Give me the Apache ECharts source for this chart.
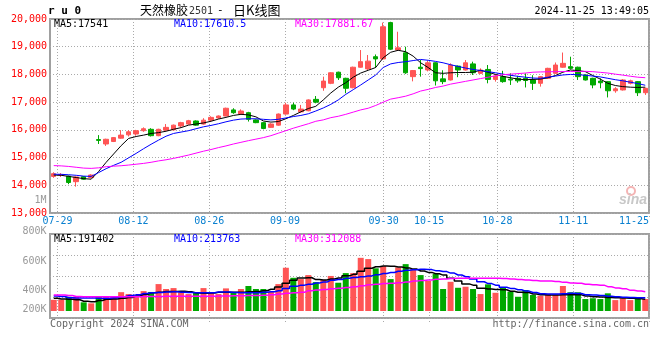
<!DOCTYPE html>
<html><head><meta charset="utf-8">
<script src="https://cdn.jsdelivr.net/npm/echarts@6/dist/echarts.min.js"></script>
<style>html,body{margin:0;padding:0;background:#fff}#c{width:660px;height:360px}</style>
</head><body><div id="c"></div>
<script>
// ---------- data ----------
const dates = ['07-26','07-29','07-30','07-31','08-01','08-02','08-05','08-06','08-07','08-08',
 '08-09','08-12','08-13','08-14','08-15','08-16','08-19','08-20','08-21','08-22',
 '08-23','08-26','08-27','08-28','08-29','08-30','09-02','09-03','09-04','09-05',
 '09-06','09-09','09-10','09-11','09-12','09-13','09-18','09-19','09-20','09-23',
 '09-24','09-25','09-26','09-27','09-30','10-08','10-09','10-10','10-11','10-14',
 '10-15','10-16','10-17','10-18','10-21','10-22','10-23','10-24','10-25','10-28',
 '10-29','10-30','10-31','11-01','11-04','11-05','11-06','11-07','11-08','11-11',
 '11-12','11-13','11-14','11-15','11-18','11-19','11-20','11-21','11-22','11-25'];
const xTickLabels = ['07-29','08-12','08-26','09-09','09-30','10-15','10-28','11-11','11-25'];

const opens = [14320,14360,14330,14130,14310,14280,15650,15490,15580,15700,
 15820,15850,15970,16020,15790,15990,16000,16140,16210,16320,
 16210,16350,16430,16500,16720,16570,16620,16360,16260,16090,
 16170,16570,16900,16650,16690,17100,17520,17680,18080,17860,
 17520,18260,18200,18640,18560,19870,18880,18780,17920,18260,
 18160,18420,17840,17800,18300,18160,18380,18040,18180,17820,
 17920,17830,17860,17860,17800,17680,17860,18040,18260,18280,
 18260,17980,17860,17760,17740,17410,17440,17680,17740,17340];
const closes = [14420,14390,14100,14300,14220,14370,15620,15660,15720,15810,
 15930,15970,16040,15790,16020,16090,16170,16260,16330,16170,
 16350,16450,16500,16780,16620,16680,16380,16260,16050,16210,
 16570,16900,16750,16750,17080,17000,17760,18060,17880,17500,
 18260,18460,18480,18560,19720,18910,18960,18060,18140,18210,
 18420,17770,17740,18340,18160,18420,18060,18160,17820,17940,
 17740,17800,17770,17780,17680,17920,18220,18340,18400,18220,
 17920,17800,17620,17700,17410,17480,17800,17770,17340,17500];
const lows = [14270,14300,14040,13950,14200,14250,15490,15420,15560,15680,
 15760,15790,15930,15760,15770,15970,15980,16080,16190,16150,
 16190,16300,16400,16490,16580,16540,16300,16240,16020,16070,
 16150,16550,16710,16620,16670,16960,17410,17650,17800,17320,
 17500,18240,18150,18240,18530,18880,18850,18020,17750,17920,
 18110,17600,17650,17780,17900,18140,17980,18020,17680,17740,
 17700,17620,17700,17530,17440,17560,17840,18020,18240,18180,
 17800,17780,17500,17500,17170,17340,17420,17640,17220,17260];
const highs = [14470,14440,14350,14320,14330,14400,15810,15680,15740,15990,
 15990,16000,16090,16060,16040,16210,16190,16290,16360,16340,
 16420,16490,16520,16800,16780,16740,16650,16380,16280,16240,
 16590,16980,16980,16900,17100,17220,17920,18080,18100,17880,
 18280,18880,18700,18720,19870,19900,19540,19000,18160,18520,
 18500,18440,18150,18400,18320,18520,18460,18220,18340,18010,
 18130,18040,17950,18040,17970,17940,18240,18430,18790,18640,
 18280,18000,17880,17860,17760,17540,17830,17810,17760,17520];

const ma5 = [14370,14360,14320,14280,14240,14220,14500,14830,15130,15430,
 15690,15760,15810,15870,15900,15950,16020,16080,16170,16210,
 16250,16310,16390,16450,16520,16560,16540,16470,16320,16280,
 16300,16400,16520,16650,16770,16850,17080,17330,17540,17700,
 17900,18050,18150,18250,18600,18800,18870,18820,18660,18420,
 18250,18060,18040,18060,18070,18070,18080,18150,18080,18000,
 17930,17880,17830,17810,17820,17830,17880,17960,18080,18160,
 18140,18100,17960,17830,17680,17600,17560,17540,17530,17541];
const ma10 = [14400,14395,14380,14360,14330,14320,14460,14600,14720,14830,
 14990,15150,15320,15480,15630,15770,15870,15920,15970,16040,
 16110,16160,16220,16290,16350,16390,16400,16400,16380,16360,
 16380,16430,16480,16520,16580,16680,16790,16920,17080,17280,
 17450,17620,17800,17980,18250,18380,18430,18460,18500,18540,
 18510,18470,18420,18350,18290,18230,18180,18140,18100,18060,
 18010,17970,17930,17900,17870,17860,17900,17940,17980,18000,
 17990,17970,17940,17910,17860,17810,17770,17720,17670,17610];
const ma30 = [14710,14700,14680,14650,14620,14610,14630,14670,14690,14705,
 14730,14760,14790,14830,14880,14920,14970,15030,15090,15160,
 15230,15290,15360,15420,15490,15550,15610,15665,15720,15790,
 15880,15970,16060,16140,16220,16310,16360,16440,16490,16560,
 16640,16720,16780,16880,17000,17110,17160,17215,17300,17400,
 17460,17530,17580,17650,17700,17750,17800,17850,17900,17950,
 17990,18010,18030,18050,18080,18090,18095,18100,18105,18105,
 18110,18112,18100,18075,18050,18010,17975,17935,17900,17882];

const volumes = [182000,182000,231000,231000,141000,124000,231000,233000,233000,306000,
 275000,226000,323000,309000,437000,357000,372000,301000,275000,301000,
 372000,301000,275000,367000,301000,357000,406000,357000,357000,313000,
 437000,702000,539000,518000,583000,469000,503000,569000,459000,615000,
 615000,863000,843000,693000,729000,518000,707000,761000,678000,583000,
 488000,600000,357000,474000,377000,394000,357000,275000,433000,296000,
 384000,313000,231000,340000,260000,248000,270000,260000,406000,304000,
 304000,194000,207000,194000,287000,177000,207000,177000,221000,194000];
const volMa5 = [207000,194000,190000,182000,158000,151000,170000,190000,194000,207000,
 219000,243000,267000,296000,304000,316000,318000,321000,311000,292000,
 287000,292000,304000,306000,304000,306000,311000,316000,328000,352000,
 389000,450000,498000,535000,539000,510000,505000,518000,535000,571000,
 595000,644000,693000,719000,729000,725000,715000,700000,680000,650000,
 627000,605000,583000,530000,486000,440000,420000,370000,357000,350000,
 345000,320000,304000,300000,275000,262000,260000,260000,262000,265000,
 262000,245000,231000,228000,220000,216000,212000,205000,198000,191000];
const volMa10 = [243000,235000,215000,211000,211000,210000,208000,207000,215000,231000,
 250000,262000,285000,296000,300000,310000,313000,305000,300000,296000,
 296000,298000,310000,310000,300000,298000,296000,298000,305000,313000,
 330000,365000,400000,420000,433000,455000,470000,500000,510000,530000,
 545000,556000,570000,590000,610000,625000,645000,660000,670000,676000,
 672000,655000,640000,615000,585000,556000,520000,474000,445000,420000,
 385000,367000,345000,323000,300000,280000,275000,275000,280000,287000,
 285000,265000,258000,250000,240000,231000,225000,220000,217000,214000];
const volMa30 = [260000,258000,250000,235000,231000,231000,231000,231000,231000,231000,
 232000,233000,235000,236000,237000,238000,238000,238000,238000,238000,
 240000,240000,242000,245000,248000,248000,250000,252000,255000,265000,
 275000,287000,295000,305000,330000,340000,350000,360000,370000,380000,
 395000,410000,425000,435000,445000,450000,460000,472000,485000,495000,
 505000,515000,520000,528000,530000,530000,530000,530000,530000,530000,
 528000,520000,510000,503000,495000,488000,486000,480000,465000,455000,
 450000,435000,425000,420000,395000,375000,360000,335000,325000,312000];

const priceMaLabels = ['MA5:17541','MA10:17610.5','MA30:17881.67'];
const volMaLabels = ['MA5:191402','MA10:213763','MA30:312088'];
const volTickLabels = ['1M','800K','600K','400K','200K'];

// ---------- style / layout ----------
const MONO = '"DejaVu Sans Mono","Liberation Mono",monospace';
const CJK = '"Noto Sans CJK SC",sans-serif';
const UP = '#ff5555', DOWN = '#00a800';
const GRIDC = '#aaaaaa', BORDER = '#a0a0a0';
const dotted = {color: GRIDC, width: 1, type: [1, 2]};
const tickSet = new Set(xTickLabels);
const showTick = (i, v) => tickSet.has(v);

const candleData = opens.map((o, i) => [o, closes[i], lows[i], highs[i]]);
const volData = volumes.map((v, i) => ({
  value: v, itemStyle: {color: closes[i] >= opens[i] ? UP : DOWN}
}));

function txt(x, y, text, fill, font, align) {
  return {type: 'text', x: x, y: y, silent: true, z: 100,
    style: {text: text, fill: fill || '#000', font: font || ('10px ' + MONO),
      textAlign: align || 'left', align: align || 'left',
      textVerticalAlign: 'middle', verticalAlign: 'middle'}};
}
const maColors = ['#000000', '#0000ff', '#ff00ff'];
const maX = [54, 174, 295];
const volTickY = [200, 231, 261, 290, 309];

const graphics = [
  txt(48, 11, 'r u 0', '#000', 'bold 11px ' + MONO),
  txt(140, 10, '天然橡胶', '#000', '12px ' + CJK),
  txt(189, 11, '2501', '#333', '10px ' + MONO),
  txt(217, 10, '-', '#000', '11px ' + MONO),
  txt(233, 10, '日K线图', '#000', '13px ' + CJK),
  txt(649, 11, '2024-11-25 13:49:05', '#000', '10px ' + MONO, 'right'),
  txt(50, 324, 'Copyright 2024 SINA.COM', '#666', '10px ' + MONO),
  txt(649, 324, 'http://finance.sina.com.cn', '#666', '10px ' + MONO, 'right'),
  {type: 'circle', silent: true, z: 1, shape: {cx: 631, cy: 191, r: 4},
    style: {fill: 'none', stroke: '#f4b4b4', lineWidth: 2}},
  txt(619, 200, 'sina', '#c8c8c8', 'italic bold 14px "Liberation Sans",Arial,sans-serif')
];
priceMaLabels.forEach((t, i) => graphics.push(txt(maX[i], 24, t, maColors[i])));
volMaLabels.forEach((t, i) => graphics.push(txt(maX[i], 239, t, maColors[i])));
volTickLabels.forEach((t, i) => graphics.push(txt(46.5, volTickY[i], t, '#999', '10px ' + MONO, 'right')));

const L = 50, R = 11;
const option = {
  animation: false,
  backgroundColor: '#fff',
  grid: [
    {left: L, right: R, top: 19, height: 194, show: true, borderColor: BORDER, borderWidth: 2, backgroundColor: 'transparent'},
    {left: L, right: R, top: 234, height: 84, show: true, borderColor: BORDER, borderWidth: 2, backgroundColor: 'transparent'},
    {left: L, right: R, top: 234, height: 77}
  ],
  xAxis: [
    {type: 'category', gridIndex: 0, data: dates, boundaryGap: true, show: false},
    {type: 'category', gridIndex: 0, data: dates, boundaryGap: false, position: 'bottom',
      axisLine: {show: false},
      axisTick: {show: true, length: 4, interval: showTick, lineStyle: dotted},
      axisLabel: {interval: showTick, color: '#0a80d0', fontFamily: MONO, fontSize: 10, margin: 3,
        alignMaxLabel: 'right'},
      splitLine: {show: true, interval: showTick, lineStyle: dotted}},
    {type: 'category', gridIndex: 1, data: dates, boundaryGap: false,
      axisLine: {show: false},
      axisTick: {show: true, length: 4, interval: showTick, lineStyle: dotted},
      axisLabel: {show: false},
      splitLine: {show: true, interval: showTick, lineStyle: dotted}},
    {type: 'category', gridIndex: 2, data: dates, boundaryGap: true, show: false}
  ],
  yAxis: [
    {type: 'value', gridIndex: 0, min: 13000, max: 20000, interval: 1000,
      axisLine: {show: false}, axisTick: {show: false},
      axisLabel: {color: '#ff0000', fontFamily: MONO, fontSize: 10, margin: 3},
      splitLine: {show: true, lineStyle: dotted}},
    {type: 'value', gridIndex: 1, min: 0, max: 4, interval: 1,
      axisLine: {show: false}, axisTick: {show: false}, axisLabel: {show: false},
      splitLine: {show: true, lineStyle: dotted}},
    {type: 'value', gridIndex: 2, min: 0, max: 1250000, show: false, splitLine: {show: false}}
  ],
  series: [
    {type: 'candlestick', xAxisIndex: 0, yAxisIndex: 0, data: candleData, barWidth: 5,
      itemStyle: {color: UP, color0: DOWN, borderColor: UP, borderColor0: DOWN, borderWidth: 1}},
    {type: 'line', xAxisIndex: 0, yAxisIndex: 0, data: ma5, showSymbol: false, lineStyle: {color: '#000', width: 1}},
    {type: 'line', xAxisIndex: 0, yAxisIndex: 0, data: ma10, showSymbol: false, lineStyle: {color: '#0000ff', width: 1}},
    {type: 'line', xAxisIndex: 0, yAxisIndex: 0, data: ma30, showSymbol: false, lineStyle: {color: '#ff00ff', width: 1}},
    {type: 'bar', xAxisIndex: 3, yAxisIndex: 2, data: volData, barWidth: 6},
    {type: 'line', xAxisIndex: 3, yAxisIndex: 2, data: volMa5, step: 'middle', showSymbol: false, lineStyle: {color: '#000', width: 1.5}},
    {type: 'line', xAxisIndex: 3, yAxisIndex: 2, data: volMa10, step: 'middle', showSymbol: false, lineStyle: {color: '#0000ff', width: 1.5}},
    {type: 'line', xAxisIndex: 3, yAxisIndex: 2, data: volMa30, step: 'middle', showSymbol: false, lineStyle: {color: '#ff00ff', width: 1.5}}
  ],
  graphic: graphics
};
const chart = echarts.init(document.getElementById('c'), null, {renderer: 'canvas'});
chart.setOption(option);
</script>
</body></html>
